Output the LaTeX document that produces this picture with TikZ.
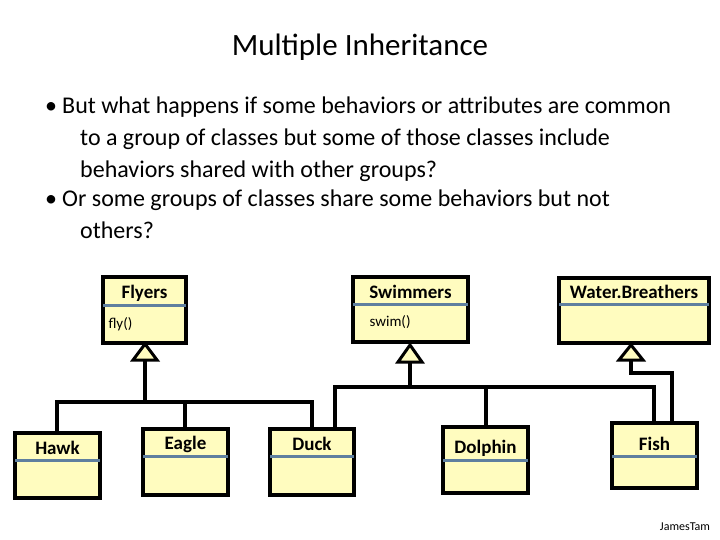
\documentclass[tikz,border=0pt]{standalone}
\usepackage{fontspec}
\setmainfont{Carlito}
\begin{document}
\begin{tikzpicture}[x=1pt,y=-1pt,
  cls/.style={draw=black,line width=3.5pt,fill=yellow!25},
  divl/.style={draw=divc,line width=3pt},
  lnk/.style={line width=3.5pt},
  tri/.style={draw=black,line width=3pt,fill=yellow!25,line join=miter},
  lbl/.style={font=\bfseries\fontsize{19}{22}\selectfont},
  bul/.style={anchor=base west,font=\fontsize{24}{28}\selectfont,inner sep=0}]
\definecolor{divc}{HTML}{5F7F9F}
\useasboundingbox (0,0) rectangle (720,540);
\fill[white] (0,0) rectangle (720,540);
\node[font=\fontsize{31}{36}\selectfont] (title) at (360,47) {Multiple Inheritance};
\node[bul] (b1) at (45,114) {•};
\node[bul] (t1) at (62,114) {But what happens if some behaviors or attributes are common};
\node[bul] (t2) at (80,146) {to a group of classes but some of those classes include};
\node[bul] (t3) at (80,178) {behaviors shared with other groups?};
\node[bul] (b2) at (45,207) {•};
\node[bul] (t4) at (62,207) {Or some groups of classes share some behaviors but not};
\node[bul] (t5) at (80,239) {others?};
% class boxes
\newcommand{\umlbox}[7]{%
  \draw[cls] (#1,#3) rectangle (#2,#4);
  \draw[divl] (#1,#5) -- (#2,#5);
  \node[lbl] (#6) at ({(#1+#2)/2},{#5-12}) {#7};}
\umlbox{103}{186}{277}{343}{305}{flyers}{Flyers}
\umlbox{353}{468}{277}{342}{304}{swimmers}{Swimmers}
\umlbox{559}{709}{278}{343}{304}{wb}{Water.Breathers}
\umlbox{15}{100}{433}{498}{460}{hawk}{Hawk}
\umlbox{143}{228}{429}{495}{456}{eagle}{Eagle}
\umlbox{270}{354}{429}{495}{456}{duck}{Duck}
\umlbox{443}{528}{427}{493}{460}{dolphin}{Dolphin}
\umlbox{612}{697}{423}{488}{456}{fish}{Fish}
\node[font=\fontsize{15}{17}\selectfont,anchor=west] (fly) at (105,324) {fly()};
\node[font=\fontsize{15}{17}\selectfont,anchor=west] (swim) at (366,322) {swim()};
% links
\coordinate (fj) at (145,402);
\coordinate (sj) at (410,387);
\draw[lnk] (145,360) -- (fj);
\draw[lnk] (57,433) |- (312,402) -- (312,429);
\draw[lnk] (185,402) -- (185,429);
\draw[lnk] (410,362) -- (sj);
\draw[lnk] (335,429) |- (654,387) -- (654,423);
\draw[lnk] (486,387) -- (486,427);
\draw[lnk] (631,360) -- (631,373) -| (672,423);
% triangles
\draw[tri] (145,344) -- (133,360) -- (157,360) -- cycle;
\draw[tri] (410,345) -- (398,362) -- (422,362) -- cycle;
\draw[tri] (631,345) -- (619,360) -- (643,360) -- cycle;
\node[font=\fontsize{12}{14}\selectfont] (jt) at (685,527) {JamesTam};
\end{tikzpicture}
\end{document}
